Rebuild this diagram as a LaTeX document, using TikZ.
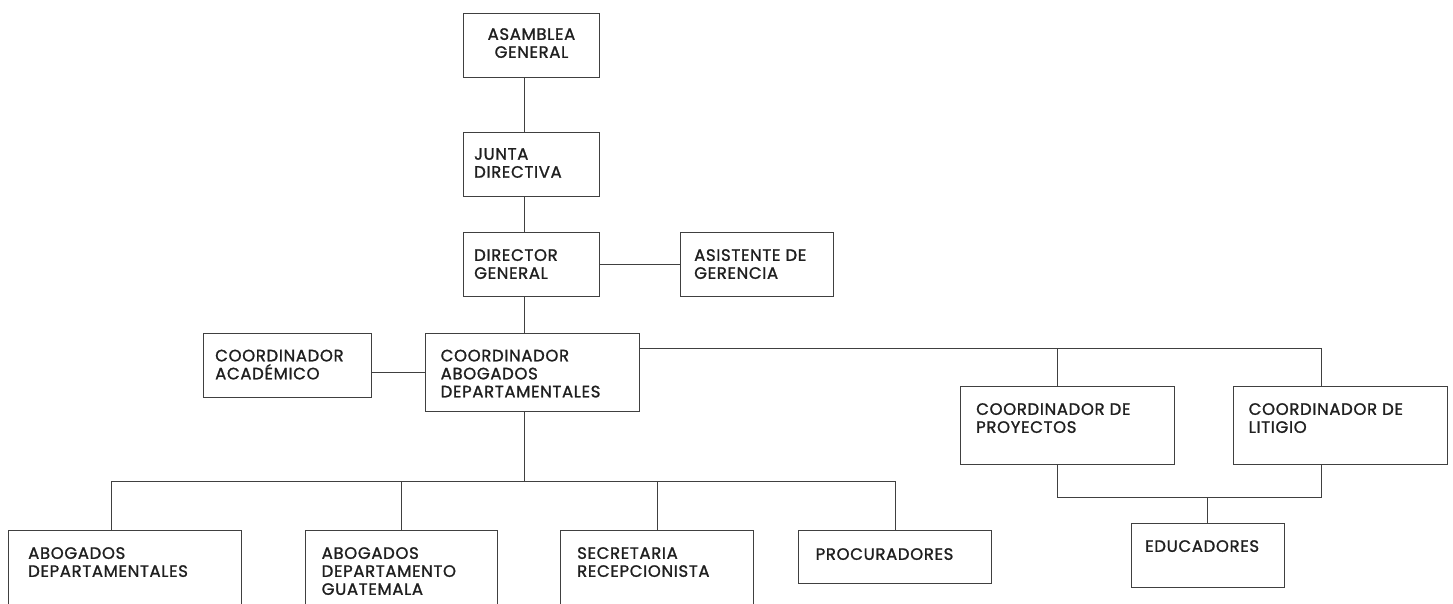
\documentclass[tikz,border=0pt]{standalone}
\usepackage{fontspec}
\setmainfont{Poppins}[FakeBold=1.3,LetterSpace=4]
\usetikzlibrary{positioning}

\begin{document}
\begin{tikzpicture}[
  x=1pt,y=-1pt,
  box/.style={draw=black!75,line width=0.9pt,rectangle,anchor=north west,inner sep=0pt},
  lbl/.style={align=left,inner sep=0pt,text=black!88,font=\fontsize{16.5}{18}\selectfont},
  link/.style={draw=black!75,line width=0.9pt}
]
  \useasboundingbox (0,0) rectangle (1453,604);
  \clip (0,0) rectangle (1453,604);

  % top chain
  \coordinate (spine) at (524,0);
  \node[box,minimum width=136pt,minimum height=64pt] (ag) at (463,13) {};
  \node[lbl,align=center,below=15pt of ag.north] (agt) {ASAMBLEA\\GENERAL};
  \node[box,minimum width=136pt,minimum height=64pt] (jd) at (463,132) {};
  \node[lbl,below right=16pt and 11pt of jd.north west] (jdt) {JUNTA\\DIRECTIVA};
  \node[box,minimum width=136pt,minimum height=64pt] (dg) at (463,232) {};
  \node[lbl,below right=17pt and 11pt of dg.north west] (dgt) {DIRECTOR\\GENERAL};
  \node[box,minimum width=153pt,minimum height=64pt] (asis) at (680,232) {};
  \node[lbl,below right=17pt and 14pt of asis.north west] (asist) {ASISTENTE DE\\GERENCIA};

  \draw[link] (ag.south -| spine) -- (jd.north -| spine);
  \draw[link] (jd.south -| spine) -- (dg.north -| spine);
  \draw[link] (dg.east) -- (asis.west);

  % middle row
  \node[box,minimum width=168pt,minimum height=64pt] (acad) at (203,333) {};
  \node[lbl,below right=16.5pt and 12pt of acad.north west] (acadt) {COORDINADOR\\ACADÉMICO};
  \node[box,minimum width=214pt,minimum height=78pt] (cad) at (425,333) {};
  \node[lbl,below right=16.5pt and 15.5pt of cad.north west] (cadt) {COORDINADOR\\ABOGADOS\\DEPARTAMENTALES};

  \draw[link] (dg.south -| spine) -- (cad.north -| spine);
  \draw[link] (cad.west -| acad.east) -- (cad.west);

  % right branch
  \coordinate (pdrop) at (1057,348.5);
  \coordinate (ldrop) at (1321,348.5);
  \coordinate (ejoin) at (1207,497.5);
  \node[box,minimum width=214pt,minimum height=78pt] (proy) at (960,386) {};
  \node[lbl,below right=17pt and 16pt of proy.north west] (proyt) {COORDINADOR DE\\PROYECTOS};
  \node[box,minimum width=214pt,minimum height=78pt] (lit) at (1233,386) {};
  \node[lbl,below right=17pt and 15.5pt of lit.north west] (litt) {COORDINADOR DE\\LITIGIO};
  \node[box,minimum width=153pt,minimum height=64pt] (edu) at (1131,523) {};
  \node[lbl,below right=17pt and 14pt of edu.north west] (edut) {EDUCADORES};

  \draw[link] (cad.east |- pdrop) -- (ldrop) -- (ldrop |- lit.north);
  \draw[link] (pdrop) -- (pdrop |- proy.north);
  \draw[link] (pdrop |- proy.south) |- (ejoin) -| (ldrop |- lit.south);
  \draw[link] (ejoin) -- (ejoin |- edu.north);

  % bottom row
  \coordinate (lbus) at (111,481.5);
  \node[box,minimum width=233pt,minimum height=90pt] (abd) at (8,530) {};
  \node[lbl,below right=17pt and 20pt of abd.north west] (abdt) {ABOGADOS\\DEPARTAMENTALES};
  \node[box,minimum width=192pt,minimum height=90pt] (abg) at (305,530) {};
  \node[lbl,below right=17pt and 16.5pt of abg.north west] (abgt) {ABOGADOS\\DEPARTAMENTO\\GUATEMALA};
  \node[box,minimum width=193pt,minimum height=90pt] (sec) at (560,530) {};
  \node[lbl,below right=17pt and 17pt of sec.north west] (sect) {SECRETARIA\\RECEPCIONISTA};
  \node[box,minimum width=193pt,minimum height=53pt] (proc) at (798,530) {};
  \node[lbl,below right=18pt and 17.5pt of proc.north west] (proct) {PROCURADORES};

  \draw[link] (cad.south -| spine) -- (spine |- lbus);
  \draw[link] (lbus |- abd.north) -- (lbus) -- (lbus -| proc.north) -- (proc.north);
  \draw[link] (abg.north) -- (abg.north |- lbus);
  \draw[link] (sec.north) -- (sec.north |- lbus);
\end{tikzpicture}
\end{document}
